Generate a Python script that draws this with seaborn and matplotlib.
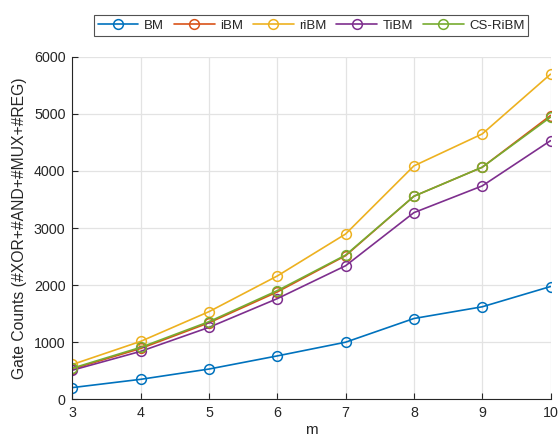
import matplotlib
matplotlib.use("Agg")
import matplotlib.pyplot as plt
import seaborn as sns
import pandas as pd

m_values = [3, 4, 5, 6, 7, 8, 9, 10]
bm = [205, 350, 530, 760, 1000, 1415, 1620, 1975]
ibm = [530, 890, 1340, 1880, 2515, 3556, 4064, 4970]
ribm = [610, 1015, 1535, 2160, 2895, 4088, 4647, 5694]
tibm = [510, 840, 1260, 1763, 2339, 3269, 3737, 4529]
csribm = [545, 910, 1360, 1903, 2526, 3556, 4064, 4941]
series_names = ["BM", "iBM", "riBM", "TiBM", "CS-RiBM"]
colors = ["#0072BD", "#D95319", "#EDB120", "#7E2F8E", "#77AC30"]
y_ticks = [0, 1000, 2000, 3000, 4000, 5000, 6000]

sns.set_theme(style="whitegrid")
plt.rcParams["font.family"] = ["Liberation Sans", "DejaVu Sans"]

rows = []
for name, vals in zip(series_names, [bm, ibm, ribm, tibm, csribm]):
    for mv, v in zip(m_values, vals):
        rows.append({"m": mv, "count": v, "method": name})
df = pd.DataFrame(rows)

fig = plt.figure(figsize=(5.59, 4.41), dpi=100)
ax = fig.add_axes([72.4/559, 1-399.3/441, (550.5-72.4)/559, (399.3-56.7)/441])

for name, col in zip(series_names, colors):
    sub = df[df["method"] == name]
    sns.lineplot(data=sub, x="m", y="count", ax=ax, color=col, marker="o",
                 markersize=7, markerfacecolor="none", markeredgecolor=col,
                 markeredgewidth=1.1, linewidth=1.2, label=name)

ax.set_xlim(3, 10)
ax.set_ylim(0, 6000)
ax.set_xticks(m_values)
ax.set_yticks(y_ticks)
ax.set_xlabel("m", fontsize=11, color="#262626", labelpad=2)
ax.set_ylabel("Gate Counts (#XOR+#AND+#MUX+#REG)", fontsize=11.3,
              color="#262626", labelpad=5)
ax.tick_params(axis="both", labelsize=10.3, colors="#262626", direction="in",
               length=4, width=0.8, left=True, bottom=True, pad=5)
ax.grid(True, color="#e3e3e3", linewidth=0.9)
ax.set_facecolor("white")
for side in ["top", "right"]:
    ax.spines[side].set_visible(False)
for side in ["left", "bottom"]:
    ax.spines[side].set_color("#262626")
    ax.spines[side].set_linewidth(0.8)

leg = ax.legend(loc="center", bbox_to_anchor=(311/559, 1-25.5/441),
                bbox_transform=fig.transFigure, ncol=5, fontsize=9.5,
                frameon=True, fancybox=False, handlelength=3.1,
                columnspacing=0.75, handletextpad=0.4, borderpad=0.3,
                borderaxespad=0)
leg.get_frame().set_edgecolor("#262626")
leg.get_frame().set_linewidth(0.8)

fig.savefig("out.png", dpi=100)
